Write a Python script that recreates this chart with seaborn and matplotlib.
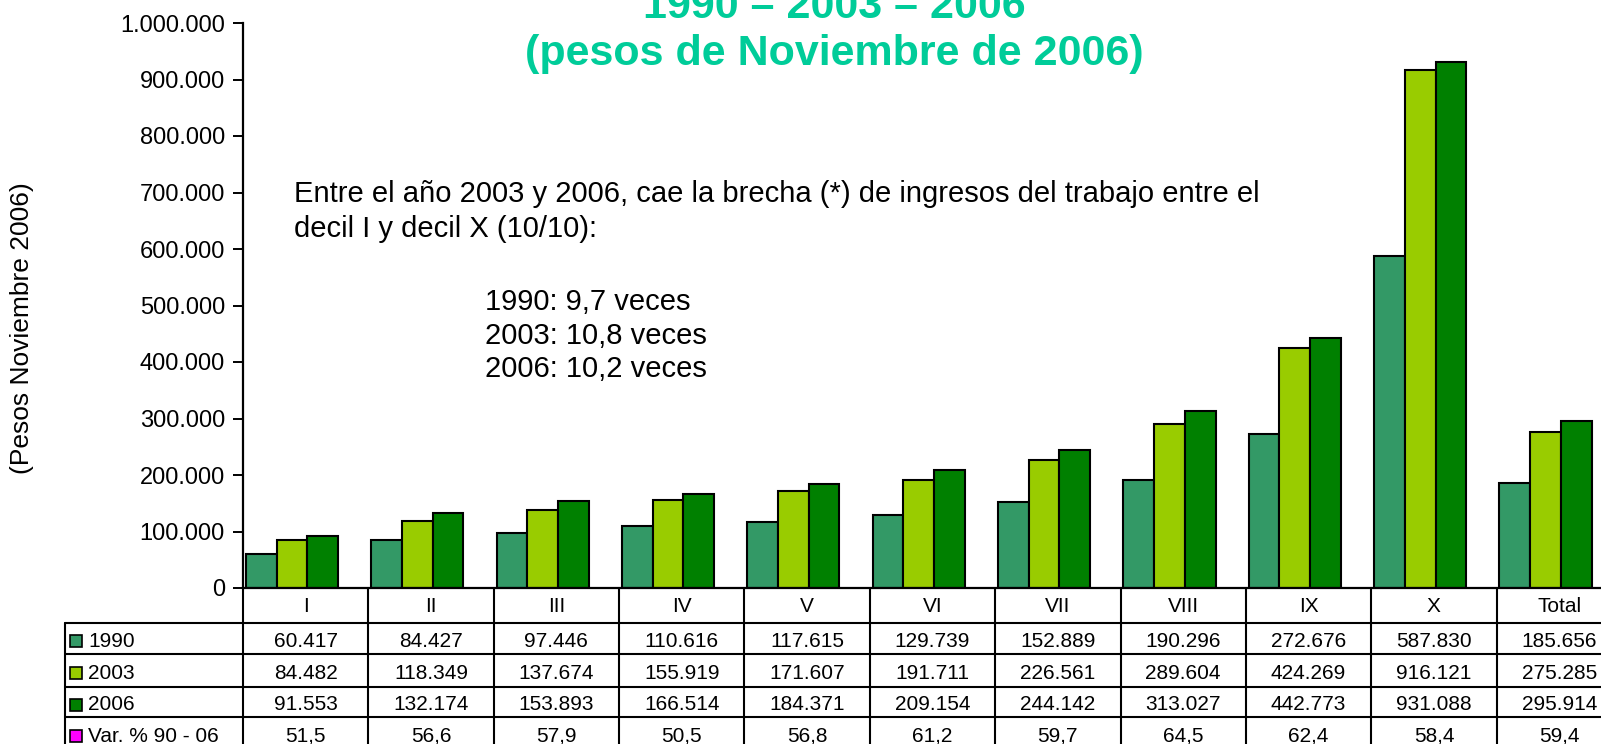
import matplotlib
matplotlib.use("Agg")
import matplotlib.pyplot as plt
import matplotlib.transforms as mtransforms
import seaborn as sns
import pandas as pd
import numpy as np

# ---- data ----
deciles = ["I", "II", "III", "IV", "V", "VI", "VII", "VIII", "IX", "X", "Total"]
series_names = ["1990", "2003", "2006"]
v1990 = [60417, 84427, 97446, 110616, 117615, 129739, 152889, 190296, 272676, 587830, 185656]
v2003 = [84482, 118349, 137674, 155919, 171607, 191711, 226561, 289604, 424269, 916121, 275285]
v2006 = [91553, 132174, 153893, 166514, 184371, 209154, 244142, 313027, 442773, 931088, 295914]
var_label = "Var. % 90 - 06"
var_pct = ["51,5", "56,6", "57,9", "50,5", "56,8", "61,2", "59,7", "64,5", "62,4", "58,4", "59,4"]
yticks = list(range(0, 1000001, 100000))

title_l1 = "1990 \u2013 2003 \u2013 2006"
title_l2 = "(pesos de Noviembre de 2006)"
note_l1 = "Entre el a\u00f1o 2003 y 2006, cae la brecha (*) de ingresos del trabajo entre el"
note_l2 = "decil I y decil X (10/10):"
ratios = ["1990: 9,7 veces", "2003: 10,8 veces", "2006: 10,2 veces"]
ylabel = "(Pesos Noviembre 2006)"

colors = ["#339966", "#99CC00", "#008000"]
var_color = "#FF00FF"
title_color = "#00CC99"

df = pd.DataFrame({
    "decil": deciles * 3,
    "serie": sum([[s] * len(deciles) for s in series_names], []),
    "valor": v1990 + v2003 + v2006,
})

sns.set_theme(style="white")
plt.rcParams["font.family"] = ["Liberation Sans", "DejaVu Sans"]
plt.rcParams["text.color"] = "black"
plt.rcParams["ytick.color"] = "black"
plt.rcParams["ytick.labelcolor"] = "black"

W, H = 1601, 744
fig = plt.figure(figsize=(W / 100, H / 100), dpi=100)

def fx(x):
    return x / W

def fy(y):
    return 1 - y / H

ax_left, ax_right, ax_top, ax_bottom = 243, 1622, 23, 588
ax = fig.add_axes([fx(ax_left), fy(ax_bottom), (ax_right - ax_left) / W, (ax_bottom - ax_top) / H])

sns.barplot(data=df, x="decil", y="valor", hue="serie", palette=colors,
            order=deciles, hue_order=series_names, width=0.735, gap=0,
            edgecolor="black", linewidth=1.5, ax=ax, legend=False, saturation=1)

offset = 0.39
ax.set_xlim(-offset, len(deciles) - offset)
ax.set_ylim(0, 1000000)
ax.set_yticks(yticks)
ax.set_yticklabels([f"{t:,}".replace(",", ".") for t in yticks], fontsize=17, color="black")
ax.set_xticks([])
ax.set_xlabel("")
ax.set_ylabel("")
for s in ["top", "right"]:
    ax.spines[s].set_visible(False)
for s in ["left", "bottom"]:
    ax.spines[s].set_color("black")
    ax.spines[s].set_linewidth(1.6)
ax.tick_params(axis="y", which="both", left=True, length=7, width=1.4, color="black", pad=6)

# y label
fig.text(fx(22), fy(328), ylabel, rotation=90, ha="center", va="center", fontsize=19)

# title
fig.text(fx(834), fy(18), title_l1, ha="center", va="baseline", fontsize=31,
         fontweight="bold", color=title_color)
fig.text(fx(834), fy(65), title_l2, ha="center", va="baseline", fontsize=31,
         fontweight="bold", color=title_color)

# annotation
fig.text(fx(294), fy(202), note_l1, ha="left", va="baseline", fontsize=21)
fig.text(fx(294), fy(237), note_l2, ha="left", va="baseline", fontsize=21)
for i, r in enumerate(ratios):
    fig.text(fx(485), fy(310 + 33.5 * i), r, ha="left", va="baseline", fontsize=21)

# ---- data table ----
trans = mtransforms.blended_transform_factory(ax.transData, fig.transFigure)
row_edges = [588, 622.5, 654, 686.5, 716.5, 750]
col_edges = [k - offset for k in range(len(deciles) + 1)]
lw = 1.5
for xe in col_edges:
    ax.plot([xe, xe], [fy(row_edges[0]), fy(row_edges[-1])], color="black", lw=lw,
            transform=trans, clip_on=False)
x_left_fig = fx(65)
for ye in row_edges[1:]:
    fig.add_artist(plt.Line2D([x_left_fig, 1.2], [fy(ye), fy(ye)], color="black", lw=lw,
                              transform=fig.transFigure))
fig.add_artist(plt.Line2D([x_left_fig, x_left_fig], [fy(row_edges[1]), fy(row_edges[-1])],
                          color="black", lw=lw, transform=fig.transFigure))

tfs = 15
dy = 3
hy = (row_edges[0] + row_edges[1]) / 2 + 1
for k, d in enumerate(deciles):
    ax.text(k - offset + 0.5, fy(hy), d, transform=trans, ha="center", va="center",
            fontsize=tfs, clip_on=False)

rows = [v1990, v2003, v2006]
for r, (name, vals, col) in enumerate(zip(series_names, rows, colors)):
    yc = (row_edges[r + 1] + row_edges[r + 2]) / 2 + dy
    fig.add_artist(plt.Rectangle((fx(70), fy(yc + 6)), 12 / W, 12 / H, facecolor=col,
                                 edgecolor="black", lw=1.2, transform=fig.transFigure))
    fig.text(fx(88), fy(yc), name, ha="left", va="center", fontsize=tfs)
    for k, v in enumerate(vals):
        ax.text(k - offset + 0.5, fy(yc), f"{v:,}".replace(",", "."), transform=trans,
                ha="center", va="center", fontsize=tfs, clip_on=False)

yc = (row_edges[4] + row_edges[5]) / 2 + dy
fig.add_artist(plt.Rectangle((fx(70), fy(yc + 6)), 12 / W, 12 / H, facecolor=var_color,
                             edgecolor="black", lw=1.2, transform=fig.transFigure))
fig.text(fx(88), fy(yc), var_label, ha="left", va="center", fontsize=tfs)
for k, v in enumerate(var_pct):
    ax.text(k - offset + 0.5, fy(yc), v, transform=trans, ha="center", va="center",
            fontsize=tfs, clip_on=False)

fig.savefig("out.png", dpi=100)
